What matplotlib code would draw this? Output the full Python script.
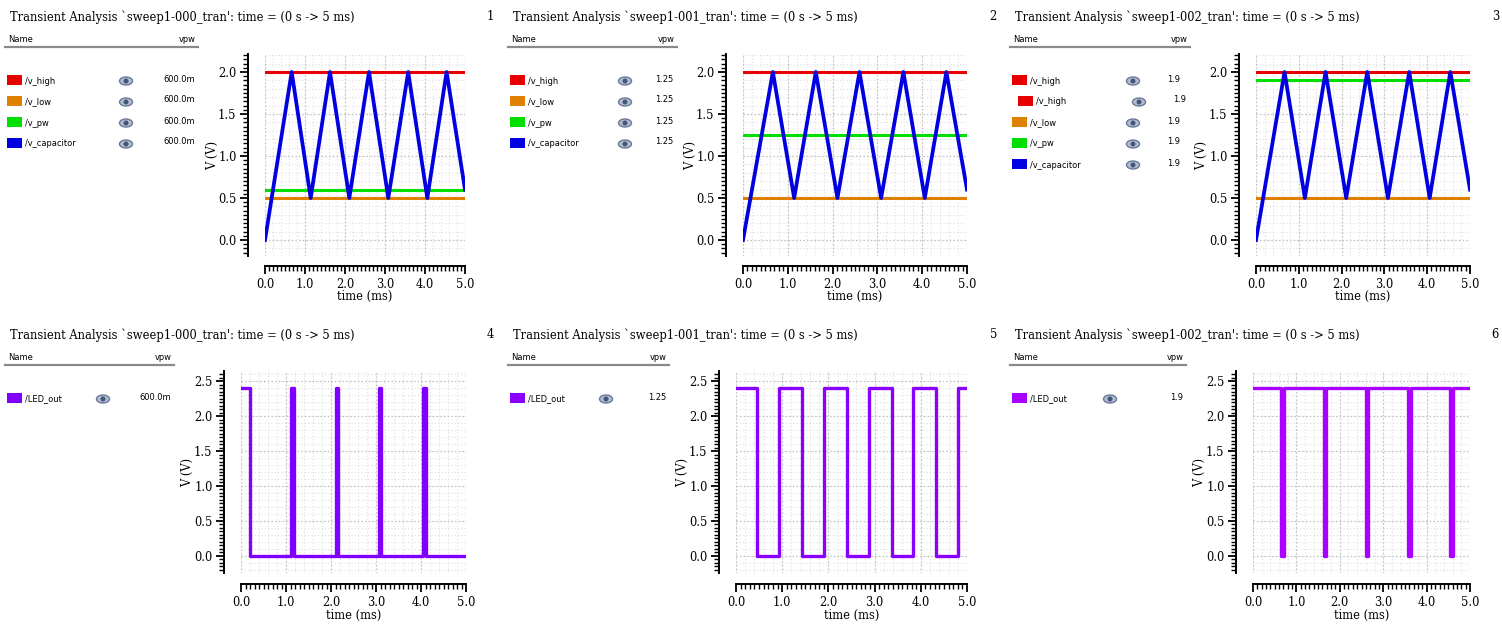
import numpy as np
import matplotlib
matplotlib.use('Agg')
import matplotlib.pyplot as plt
from matplotlib.patches import Ellipse, Rectangle
from matplotlib.ticker import MultipleLocator, FormatStrFormatter

plt.rcParams['font.family'] = 'DejaVu Serif'
plt.rcParams['font.stretch'] = 'condensed'

W, H = 1502, 628

# sweep settings
sweep_names = ['sweep1-000_tran', 'sweep1-001_tran', 'sweep1-002_tran']
vpw_values = [0.6, 1.25, 1.9]
vpw_labels = ['600.0m', '1.25', '1.9']
v_high = 2.0
v_low = 0.5
t_span = [0.0, 5.0]

# capacitor voltage (triangle)
cap_t = [0.0, 0.667, 1.142, 1.625, 2.108, 2.60, 3.083, 3.58, 4.058, 4.54, 5.0]
cap_v = [0.0, 2.0, 0.5, 2.0, 0.5, 2.0, 0.5, 2.0, 0.5, 2.0, 0.6]

# LED output, step transitions (steps-post)
led_t = [
    [0.0, 0.20, 1.12, 1.18, 2.10, 2.16, 3.06, 3.12, 4.04, 4.10, 5.0],
    [0.0, 0.46, 0.92, 1.42, 1.90, 2.40, 2.88, 3.37, 3.84, 4.33, 4.81, 5.0],
    [0.0, 0.65, 0.71, 1.63, 1.69, 2.60, 2.66, 3.57, 3.63, 4.55, 4.61, 5.0],
]
led_v = [
    [2.4, 0, 2.4, 0, 2.4, 0, 2.4, 0, 2.4, 0, 0],
    [2.4, 0, 2.4, 0, 2.4, 0, 2.4, 0, 2.4, 0, 2.4, 2.4],
    [2.4, 0, 2.4, 0, 2.4, 0, 2.4, 0, 2.4, 0, 2.4, 2.4],
]

c_high = '#e60000'
c_low = '#e08000'
c_pw = '#00e000'
c_cap = '#0000e0'
c_led = ['#8000ff', '#8a00ff', '#aa00ff']

fig = plt.figure(figsize=(W / 100, H / 100), dpi=100)


def px_axes(x0, x1, ytop, ybot):
    return fig.add_axes([x0 / W, 1 - ybot / H, (x1 - x0) / W, (ybot - ytop) / H])


def style_axes(ax, ylim, off_left, off_bottom, ylab_px, x0, x1, xlab_y):
    ax.set_xlim(t_span)
    ax.set_ylim(ylim)
    ax.xaxis.set_major_locator(MultipleLocator(1))
    ax.xaxis.set_minor_locator(MultipleLocator(0.1))
    ax.yaxis.set_major_locator(MultipleLocator(0.5))
    ax.yaxis.set_minor_locator(MultipleLocator(0.05))
    ax.xaxis.set_major_formatter(FormatStrFormatter('%.1f'))
    ax.yaxis.set_major_formatter(FormatStrFormatter('%.1f'))
    for s in ['top', 'right']:
        ax.spines[s].set_visible(False)
    ax.spines['left'].set_position(('outward', off_left))
    ax.spines['bottom'].set_position(('outward', off_bottom))
    ax.spines['left'].set_linewidth(1.4)
    ax.spines['bottom'].set_linewidth(1.4)
    ax.tick_params(which='major', length=6, width=1.3, labelsize=9.2, pad=2.5)
    ax.tick_params(which='minor', length=3.5, width=1.0)
    # fine dotted grid
    for x in np.arange(0, 5.01, 0.2):
        ax.axvline(x, color='#dedede', lw=0.8, ls=(0, (1, 2)), zorder=0)
    for y in np.arange(np.ceil(ylim[0] * 10) / 10, ylim[1], 0.1):
        ax.axhline(y, color='#dedede', lw=0.8, ls=(0, (1, 2)), zorder=0)
    ax.grid(True, which='major', color='#bdbdbd', lw=0.9, ls=(0, (1, 2)), zorder=0)
    ax.set_ylabel('V (V)', fontsize=9.2)
    ax.yaxis.set_label_coords((ylab_px - x0) / (x1 - x0), 0.5)
    ax.set_xlabel('time (ms)', fontsize=9.2)
    ax.xaxis.set_label_coords(0.5, xlab_y)


# top row: comparator inputs
top_boxes = [(265, 465, 253, 219), (743, 967, 731, 697), (1256, 1470, 1244, 1208)]
for i, (x0, x1, sp, ylab) in enumerate(top_boxes):
    ax = px_axes(x0, x1, 54, 256)
    ax.plot(t_span, [v_high, v_high], color=c_high, lw=2.2)
    ax.plot(t_span, [v_low, v_low], color=c_low, lw=2.2)
    ax.plot(t_span, [vpw_values[i], vpw_values[i]], color=c_pw, lw=2.2)
    ax.plot(cap_t, cap_v, color=c_cap, lw=2.7)
    style_axes(ax, (-0.19, 2.214), x0 - sp, 7, ylab, x0, x1, -0.168)

# bottom row: LED output
bot_boxes = [(241, 466, 229, 194), (736, 967, 724, 689), (1253, 1470, 1241, 1206)]
for i, (x0, x1, sp, ylab) in enumerate(bot_boxes):
    ax = px_axes(x0, x1, 371, 573)
    ax.plot(led_t[i], led_v[i], color=c_led[i], lw=2.4, drawstyle='steps-post')
    style_axes(ax, (-0.243, 2.643), x0 - sp, 8, ylab, x0, x1, -0.178)

# overlay in pixel coordinates for titles and waveform name lists
ov = fig.add_axes([0, 0, 1, 1])
ov.set_xlim(0, W)
ov.set_ylim(H, 0)
ov.axis('off')
ov.patch.set_alpha(0)


def eye(x, y):
    ov.add_patch(Ellipse((x, y), 13, 8, facecolor='#b3bdd0', edgecolor='#6a7a98', lw=1.0))
    ov.add_patch(Ellipse((x, y), 5, 5, facecolor='#46567a', edgecolor='none'))


def panel_list(num, name, tx, num_x, ty, lx0, lx1, entries, eye_x, val_r, val):
    ov.text(tx, ty, "Transient Analysis `%s': time = (0 s -> 5 ms)" % name,
            fontsize=9.2, va='center', ha='left')
    ov.text(num_x, ty, str(num), fontsize=9.2, va='center', ha='right')
    ov.text(lx0 + 3, ty + 22, 'Name', family='DejaVu Sans', fontsize=6.7, va='center')
    ov.text(lx1 - 2, ty + 22, 'vpw', family='DejaVu Sans', fontsize=6.7, va='center', ha='right')
    ov.plot([lx0, lx1], [ty + 30, ty + 30], color='#8a8a8a', lw=1.6)
    for k, (lab, col, ind) in enumerate(entries):
        ry = ty + 63 + 21 * k
        ov.add_patch(Rectangle((lx0 + 2 + ind, ry - 5), 15, 10, facecolor=col, edgecolor='none'))
        ov.text(lx0 + 20 + ind, ry + 1, lab, family='DejaVu Sans', fontsize=6.7, va='center')
        eye(eye_x + ind, ry + 1)
        ov.text(val_r + ind, ry - 1, val, family='DejaVu Sans', fontsize=6.7, va='center', ha='right')


top_entries = [('/v_high', c_high, 0), ('/v_low', c_low, 0), ('/v_pw', c_pw, 0), ('/v_capacitor', c_cap, 0)]
top_entries3 = [('/v_high', c_high, 0), ('/v_high', c_high, 6), ('/v_low', c_low, 0),
                ('/v_pw', c_pw, 0), ('/v_capacitor', c_cap, 0)]

panel_list(1, sweep_names[0], 10, 494, 17, 5, 198, top_entries, 126, 195, vpw_labels[0])
panel_list(2, sweep_names[1], 513, 997, 17, 508, 677, top_entries, 625, 673, vpw_labels[1])
panel_list(3, sweep_names[2], 1015, 1499, 17, 1010, 1190, top_entries3, 1133, 1180, vpw_labels[2])

for i, (tx, nx, lx0, lx1, ex, vr) in enumerate([(10, 494, 5, 174, 103, 171),
                                                 (513, 997, 508, 669, 606, 666),
                                                 (1015, 1499, 1010, 1186, 1110, 1183)]):
    panel_list(4 + i, sweep_names[i], tx, nx, 335, lx0, lx1,
               [('/LED_out', c_led[i], 0)], ex, vr, vpw_labels[i])

fig.savefig('out.png', dpi=100)
